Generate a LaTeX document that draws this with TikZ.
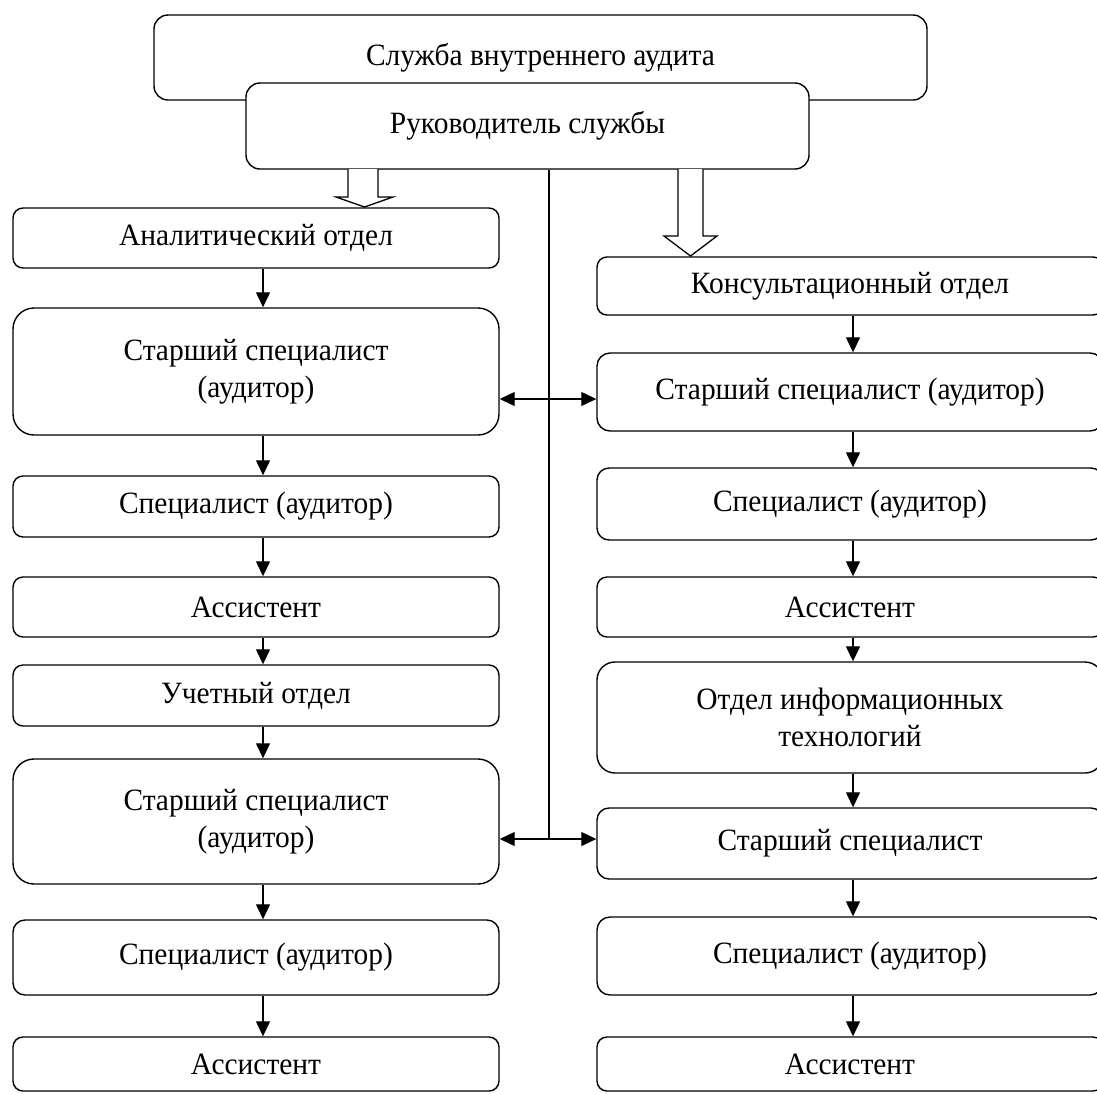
\documentclass[tikz,border=0pt]{standalone}
\usepackage{fontspec}
\setmainfont{Liberation Serif}[FakeStretch=0.95]
\usetikzlibrary{arrows.meta}
\begin{document}
\begin{tikzpicture}[x=1pt,y=-1pt,
  every node/.style={font=\fontsize{31}{37}\selectfont},
  box/.style={draw, line width=1.4pt, fill=white, inner sep=0pt, align=center, rectangle},
  lbox/.style={box, minimum width=486pt},
  rbox/.style={box, minimum width=506pt},
  arr/.style={line width=1.3pt, -{Triangle[length=15pt,width=14pt]}},
  darr/.style={line width=1.3pt, {Triangle[length=15pt,width=14pt]}-{Triangle[length=15pt,width=14pt]}},
  hollow/.style={draw, line width=1.3pt, fill=white, line join=miter}
]
\useasboundingbox (0,0) rectangle (1097,1093);

% top boxes
\node[box, minimum width=773pt, minimum height=85pt, rounded corners=14pt] (top) at (540.5,57.5) {};
\node at (540.5,57.5) (toptext) {Служба внутреннего аудита};
\node[box, minimum width=563pt, minimum height=86pt, rounded corners=14pt] (ruk) at (527.5,126) {Руководитель службы};

% left column
\node[lbox, minimum height=60pt, rounded corners=10pt] (L1) at (256,238) {Аналитический отдел};
\node[lbox, minimum height=127pt, rounded corners=21pt] (L2) at (256,371.5) {Старший специалист\\(аудитор)};
\node[lbox, minimum height=61pt, rounded corners=10pt] (L3) at (256,506.5) {Специалист (аудитор)};
\node[lbox, minimum height=60pt, rounded corners=10pt] (L4) at (256,607) {Ассистент};
\node[lbox, minimum height=61pt, rounded corners=10pt] (L5) at (256,695.5) {Учетный отдел};
\node[lbox, minimum height=125pt, rounded corners=21pt] (L6) at (256,821.5) {Старший специалист\\(аудитор)};
\node[lbox, minimum height=75pt, rounded corners=12pt] (L7) at (256,957.5) {Специалист (аудитор)};
\node[lbox, minimum height=54pt, rounded corners=10pt] (L8) at (256,1064) {Ассистент};

% right column
\node[rbox, minimum height=58pt, rounded corners=10pt] (R1) at (850,286) {Консультационный отдел};
\node[rbox, minimum height=78pt, rounded corners=13pt] (R2) at (850,392) {Старший специалист (аудитор)};
\node[rbox, minimum height=72pt, rounded corners=12pt] (R3) at (850,504) {Специалист (аудитор)};
\node[rbox, minimum height=60pt, rounded corners=10pt] (R4) at (850,607) {Ассистент};
\node[rbox, minimum height=111pt, rounded corners=18pt] (R5) at (850,717.5) {Отдел информационных\\технологий};
\node[rbox, minimum height=71pt, rounded corners=12pt] (R6) at (850,843.5) {Старший специалист};
\node[rbox, minimum height=78pt, rounded corners=13pt] (R7) at (850,956) {Специалист (аудитор)};
\node[rbox, minimum height=54pt, rounded corners=10pt] (R8) at (850,1064) {Ассистент};

% arrow columns
\coordinate (LA) at (263,0);
\coordinate (RA) at (853,0);
\foreach \a/\b in {L1/L2,L2/L3,L3/L4,L4/L5,L5/L6,L6/L7,L7/L8}{
  \draw[arr] (\a.south -| LA) -- (\b.north -| LA);
}
\foreach \a/\b in {R1/R2,R2/R3,R3/R4,R4/R5,R5/R6,R6/R7,R7/R8}{
  \draw[arr] (\a.south -| RA) -- (\b.north -| RA);
}

% central line and double arrows
\coordinate (V) at (549,0);
\coordinate (D1) at (549,399);
\coordinate (D2) at (549,839);
\draw[line width=1.3pt] (ruk.south -| V) -- (D2);
\draw[darr] (L2.east |- D1) -- (R2.west |- D1);
\draw[darr] (L6.east |- D2) -- (R6.west |- D2);

% hollow arrows
\draw[hollow] (348,169) -- (348,197) -- (336,197) -- (364.5,207) -- (393,197) -- (378,197) -- (378,169);
\draw[hollow] (678,169) -- (678,236) -- (664,236) -- (690.5,256) -- (717,236) -- (703,236) -- (703,169);
\end{tikzpicture}
\end{document}
